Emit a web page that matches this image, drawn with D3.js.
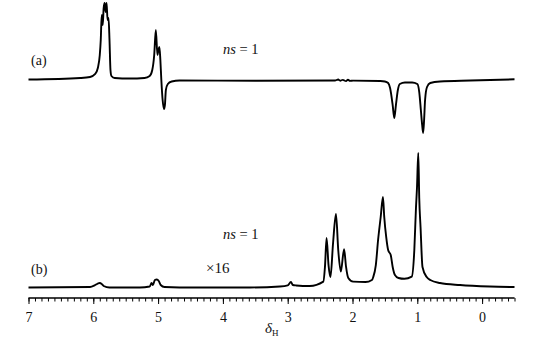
<!DOCTYPE html>
<html>
<head>
<meta charset="utf-8">
<script src="https://cdn.jsdelivr.net/npm/d3@7"></script>
<style>
  html, body { margin: 0; padding: 0; background: #fff; }
  svg { display: block; }
  svg text { font-family: "Liberation Serif", "Times New Roman", Times, "DejaVu Serif", serif; fill: #111; }
</style>
</head>
<body>
<svg id="chart" width="538" height="350"></svg>
<script>
// ---- data ----
// Trace (a): chemical shift (ppm) and relative intensity (100 = tallest line)
const ppmA = [7.00, 6.20, 6.05, 5.97, 5.93, 5.90, 5.885, 5.87, 5.855, 5.84, 5.825, 5.81, 5.795, 5.78, 5.765, 5.75, 5.735, 5.72, 5.67, 5.44, 5.21, 5.13, 5.09, 5.06, 5.035, 5.01, 4.995, 4.98, 4.965, 4.95, 4.93, 4.91, 4.895, 4.88, 4.85, 4.79, 4.67, 3.50, 2.27, 2.22, 2.19, 2.15, 2.10, 2.07, 2.04, 1.99, 1.57, 1.50, 1.45, 1.42, 1.38, 1.355, 1.33, 1.30, 1.27, 1.19, 1.08, 1.00, 0.97, 0.945, 0.925, 0.91, 0.895, 0.88, 0.85, 0.80, 0.65, 0.18, -0.50];
const intA = [0.6, 2.6, 3.9, 7.8, 15.6, 32.5, 51.9, 84.4, 71.4, 93.5, 100, 88.3, 100, 77.9, 80.5, 51.9, 13, 5.2, 2.6, 1.9, 2.6, 5.2, 13, 32.5, 64.9, 32.5, 39, 42.9, 26, 0, -26, -37.7, -32.5, -13, -5.2, -1.9, -0.6, -1, -0.6, 0.6, -0.9, 0.2, -1.5, 0.4, -1.2, -0.8, -1.3, -1.9, -3.9, -10.4, -32.5, -49.4, -32.5, -13, -5.2, -3.2, -3.2, -5.2, -15.6, -39, -58.4, -68.8, -51.9, -26, -9.1, -3.9, -1.9, -0.6, 0.9];

// Trace (b): chemical shift (ppm) and relative intensity (100 = tallest line)
const ppmB = [7.00, 6.05, 5.98, 5.93, 5.90, 5.87, 5.84, 5.75, 5.28, 5.13, 5.10, 5.08, 5.05, 5.02, 4.99, 4.96, 4.90, 4.67, 3.58, 3.12, 3.00, 2.95, 2.92, 2.87, 2.66, 2.45, 2.425, 2.40, 2.37, 2.34, 2.30, 2.255, 2.22, 2.18, 2.13, 2.10, 2.065, 1.99, 1.80, 1.70, 1.68, 1.64, 1.605, 1.565, 1.53, 1.51, 1.48, 1.45, 1.41, 1.38, 1.345, 1.29, 1.20, 1.086, 1.046, 1.02, 1.005, 0.985, 0.97, 0.95, 0.92, 0.855, 0.80, 0.65, 0.34, -0.12, -0.50];
const intB = [0.4, 0.7, 1.9, 3.3, 3.7, 3.0, 1.5, 0.4, 0.4, 1.1, 3.7, 2.2, 5.9, 6.3, 5.2, 2.2, 0.7, 0.4, 0.4, 1.1, 1.9, 4.4, 2.2, 1.9, 1.5, 4.7, 15.6, 37, 17, 8.1, 33.3, 54.8, 28.1, 12.1, 28.7, 15.8, 7.4, 4.7, 4.4, 5.9, 8.1, 17, 35.6, 52.6, 67.4, 52.6, 37.8, 28.1, 24.4, 15.6, 9.6, 7.4, 6.8, 8.4, 28.1, 60, 74, 100, 66.7, 45.2, 15.6, 8.1, 5.9, 3.7, 2.2, 1.1, 0.7];

// Axis
const ppmDomain = [7, -0.5];
const majorTicks = [7, 6, 5, 4, 3, 2, 1, 0];
const majorLabels = ["7", "6", "5", "4", "3", "2", "1", "0"];

// Annotations
const labelA = "(a)", labelB = "(b)";
const scanLabel = "1";
const scaleLabel = "\u00d716";

// ---- drawing ----
const FONT = '"Liberation Serif", "Times New Roman", Times, "DejaVu Serif", serif';
const svg = d3.select("#chart");

const x = d3.scaleLinear().domain(ppmDomain).range([28.5, 514.5]);
const yA = d3.scaleLinear().domain([0, 100]).range([80, 3]);
const yB = d3.scaleLinear().domain([0, 100]).range([288, 153]);

const lineA = d3.line().x((d, i) => x(ppmA[i])).y((d, i) => yA(intA[i])).curve(d3.curveMonotoneX);
const lineB = d3.line().x((d, i) => x(ppmB[i])).y((d, i) => yB(intB[i])).curve(d3.curveMonotoneX);

svg.append("path").attr("d", lineA(ppmA)).attr("fill", "none")
  .attr("stroke", "#000").attr("stroke-width", 1.9).attr("stroke-linejoin", "round");
svg.append("path").attr("d", lineB(ppmB)).attr("fill", "none")
  .attr("stroke", "#000").attr("stroke-width", 1.9).attr("stroke-linejoin", "round");

// axis
const axisY = 298;
const gAxis = svg.append("g").attr("transform", `translate(0,${axisY})`);
const minorTicks = d3.range(70, -6, -1).map(v => v / 10);
gAxis.call(d3.axisBottom(x).tickValues(minorTicks).tickSize(3.5).tickFormat(""));
const axisMajor = d3.axisBottom(x).tickValues(majorTicks).tickSize(6)
  .tickFormat((d, i) => majorLabels[i]);
const gMajor = svg.append("g").attr("transform", `translate(0,${axisY})`).call(axisMajor);
[gAxis, gMajor].forEach(g => {
  g.attr("font-family", FONT);
  g.selectAll(".domain").attr("stroke", "#000").attr("stroke-width", 1.2)
    .attr("d", `M${x(7)},0H${x(-0.5)}`);
  g.selectAll(".tick line").attr("stroke", "#000").attr("stroke-width", 1);
});
gMajor.selectAll(".tick text").attr("y", 14).attr("dy", "0.71em")
  .attr("font-family", FONT).style("font-family", FONT)
  .style("font-size", "14px").attr("fill", "#111");

// axis title δH
const title = svg.append("text").attr("x", 265).attr("y", 333)
  .style("font-family", FONT).style("font-size", "15px");
title.append("tspan").style("font-style", "italic").text("\u03b4");
title.append("tspan").attr("dy", 3).style("font-size", "9px").text("H");

// panel labels
svg.append("text").attr("x", 31).attr("y", 65).style("font-family", FONT).style("font-size", "14px").text(labelA);
svg.append("text").attr("x", 31).attr("y", 274).style("font-family", FONT).style("font-size", "14px").text(labelB);

function nsLabel(yb) {
  const t = svg.append("text").attr("x", 223).attr("y", yb)
    .style("font-family", FONT).style("font-size", "14.5px");
  t.append("tspan").style("font-style", "italic").text("ns");
  t.append("tspan").text(" = " + scanLabel);
}
nsLabel(54);
nsLabel(239);

svg.append("text").attr("x", 206).attr("y", 273)
  .style("font-family", FONT).style("font-size", "15px").text(scaleLabel);
</script>
</body>
</html>
